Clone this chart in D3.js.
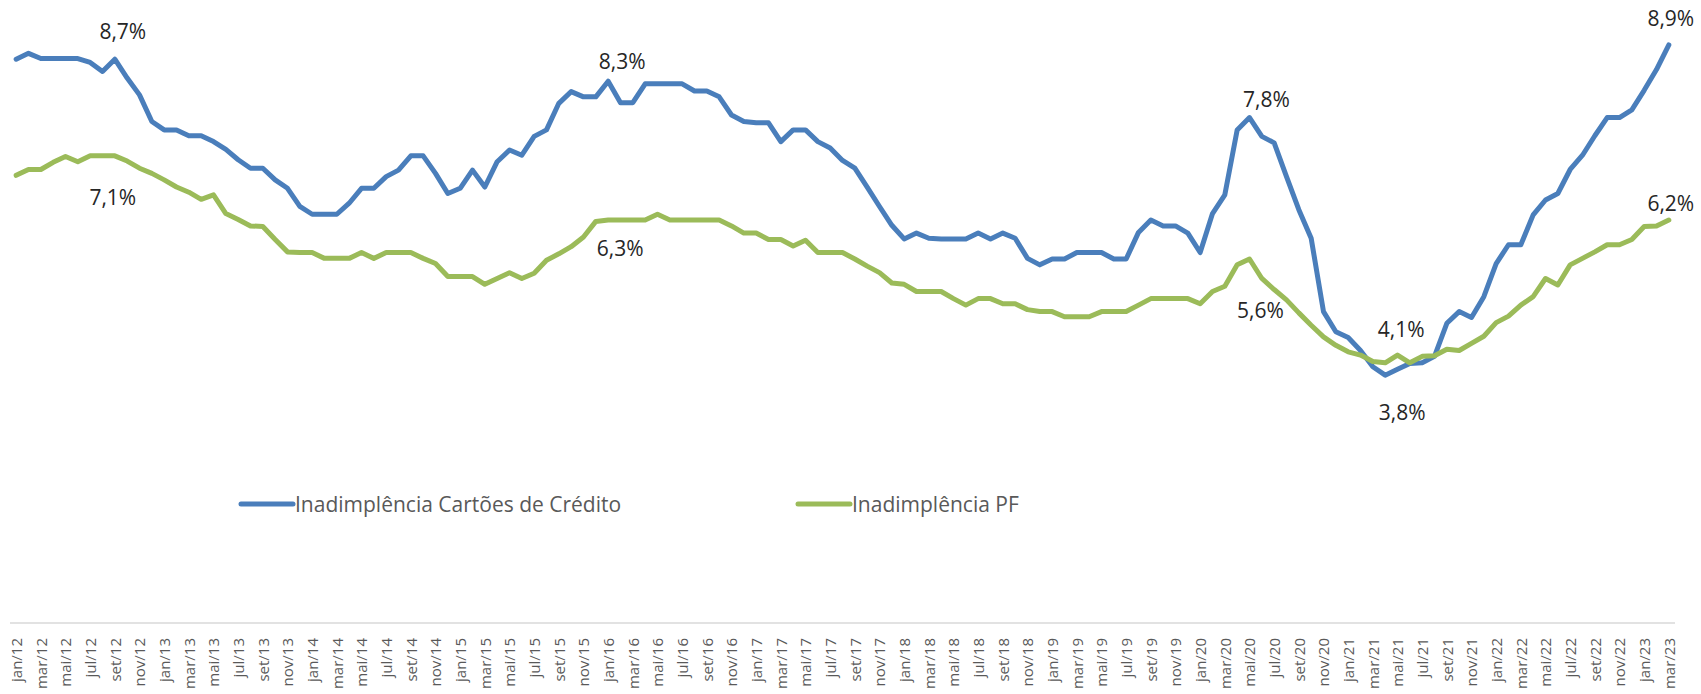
<!doctype html>
<html lang="pt">
<head>
<meta charset="utf-8" />
<title>Inadimplência</title>
<script src="https://cdn.jsdelivr.net/npm/d3@7"></script>
<style>
    html, body {
        margin: 0;
        background: #fff;
    }
    text {
        font-family: "Open Sans", sans-serif;
    }
</style>
</head>
<body>
<div id="chart"></div>
<script>
// month names for the axis, one point per month from jan/12 to mar/23
const monthNames = ["jan", "fev", "mar", "abr", "mai", "jun", "jul", "ago", "set", "out", "nov", "dez"];
const firstYear = 12;
const nMonths = 135;

// Inadimplência Cartões de Crédito (%)
const cardValues = [
    8.69, 8.78, 8.70, 8.70, 8.70, 8.70, 8.64, 8.50, 8.69, 8.40, 8.14, 7.73,
    7.60, 7.60, 7.51, 7.51, 7.42, 7.30, 7.14, 7.01, 7.01, 6.83, 6.70, 6.42,
    6.30, 6.30, 6.30, 6.47, 6.70, 6.70, 6.88, 6.98, 7.20, 7.20, 6.93, 6.62,
    6.70, 6.98, 6.72, 7.11, 7.29, 7.21, 7.50, 7.60, 8.01, 8.19, 8.11, 8.11,
    8.35, 8.02, 8.02, 8.31, 8.31, 8.31, 8.31, 8.20, 8.20, 8.11, 7.83, 7.73,
    7.71, 7.71, 7.42, 7.60, 7.60, 7.42, 7.32, 7.13, 7.01, 6.72, 6.42, 6.13,
    5.92, 6.01, 5.93, 5.92, 5.92, 5.92, 6.01, 5.92, 6.01, 5.93, 5.62, 5.52,
    5.61, 5.61, 5.71, 5.71, 5.71, 5.61, 5.61, 6.02, 6.21, 6.12, 6.12, 6.01,
    5.71, 6.31, 6.60, 7.60, 7.79, 7.50, 7.40, 6.88, 6.37, 5.93, 4.80, 4.49,
    4.40, 4.20, 3.95, 3.82, 3.91, 4.00, 4.01, 4.11, 4.62, 4.80, 4.71, 5.03,
    5.54, 5.83, 5.83, 6.29, 6.52, 6.62, 6.99, 7.21, 7.51, 7.79, 7.79, 7.91,
    8.21, 8.53, 8.91
];

// Inadimplência PF (%)
const pfValues = [
    6.90, 6.99, 6.99, 7.10, 7.19, 7.11, 7.20, 7.20, 7.20, 7.12, 7.01, 6.93,
    6.83, 6.72, 6.64, 6.53, 6.60, 6.31, 6.22, 6.12, 6.11, 5.91, 5.72, 5.71,
    5.71, 5.62, 5.62, 5.62, 5.71, 5.62, 5.71, 5.71, 5.71, 5.62, 5.54, 5.34,
    5.34, 5.34, 5.22, 5.31, 5.40, 5.31, 5.39, 5.59, 5.69, 5.80, 5.95, 6.19,
    6.21, 6.21, 6.21, 6.21, 6.30, 6.21, 6.21, 6.21, 6.21, 6.21, 6.12, 6.01,
    6.01, 5.91, 5.91, 5.81, 5.90, 5.71, 5.71, 5.71, 5.61, 5.50, 5.40, 5.24,
    5.22, 5.11, 5.11, 5.11, 5.00, 4.90, 5.00, 5.00, 4.92, 4.92, 4.83, 4.80,
    4.80, 4.72, 4.72, 4.72, 4.80, 4.80, 4.80, 4.90, 5.00, 5.00, 5.00, 5.00,
    4.92, 5.11, 5.19, 5.52, 5.61, 5.31, 5.14, 4.98, 4.78, 4.59, 4.41, 4.28,
    4.18, 4.13, 4.03, 4.01, 4.13, 4.01, 4.11, 4.12, 4.22, 4.20, 4.31, 4.42,
    4.63, 4.73, 4.90, 5.03, 5.31, 5.21, 5.52, 5.62, 5.72, 5.83, 5.83, 5.91,
    6.11, 6.12, 6.21
];

const seriesNames = ["Inadimplência Cartões de Crédito", "Inadimplência PF"];
const seriesColors = ["#4a7ebb", "#9bbb59"];

// data labels written on the chart
const labelIndex  = [8, 8, 48, 48, 100, 100, 111, 111, 134, 134];
const labelSeries = [0, 1, 0, 1, 0, 1, 1, 0, 0, 1];
const labelText   = ["8,7%", "7,1%", "8,3%", "6,3%", "7,8%", "5,6%", "4,1%", "3,8%", "8,9%", "6,2%"];

const categories = d3.range(nMonths).map(i =>
    monthNames[i % 12] + "/" + (firstYear + Math.floor(i / 12)));

const width = 1701, height = 694;
const plot = {left: 10, right: 1675, top: 0, bottom: 623};

const svg = d3.select("#chart").append("svg")
    .attr("width", width)
    .attr("height", height)
    .attr("viewBox", [0, 0, width, height]);

svg.append("rect").attr("width", width).attr("height", height).attr("fill", "#fff");

const x = d3.scalePoint()
    .domain(categories)
    .range([plot.left, plot.right])
    .padding(0.5);

const y = d3.scaleLinear()
    .domain([0, 9.6])
    .range([plot.bottom, plot.bottom - 9.6 * 64.88]);

// category axis: light rule plus rotated labels every other month
const xAxis = d3.axisBottom(x)
    .tickValues(categories.filter((d, i) => i % 2 === 0))
    .tickSize(0)
    .tickPadding(0);

const gx = svg.append("g")
    .attr("transform", `translate(0,${plot.bottom})`)
    .call(xAxis);

gx.select(".domain")
    .attr("d", `M${plot.left},0H${plot.right}`)
    .attr("stroke", "#d9d9d9")
    .attr("stroke-width", 1.5);

gx.selectAll(".tick text")
    .attr("transform", "rotate(-90)")
    .attr("text-anchor", "end")
    .attr("x", -15)
    .attr("y", 0)
    .attr("dy", "0.36em")
    .attr("fill", "#595959")
    .style("font-size", "15px")
    .style("font-family", "'Open Sans', sans-serif");

const allSeries = [cardValues, pfValues];

const line = d3.line()
    .x((d, i) => x(categories[i]))
    .y(d => y(d));

svg.append("g")
    .selectAll("path")
    .data(allSeries)
    .join("path")
    .attr("d", line)
    .attr("fill", "none")
    .attr("stroke", (d, i) => seriesColors[i])
    .attr("stroke-width", 5)
    .attr("stroke-linejoin", "round")
    .attr("stroke-linecap", "round");

// label placement relative to its point (centre of the text)
const labelOffset = [
    [8, -28], [-2, 42], [14, -20], [12, 28], [17, -18],
    [11, 51], [16, -33], [17, 37], [2, -26], [2, -17]
];
const labelSize = 21;

svg.append("g")
    .selectAll("text")
    .data(labelText)
    .join("text")
    .attr("x", (d, k) => x(categories[labelIndex[k]]) + labelOffset[k][0])
    .attr("y", (d, k) => y(allSeries[labelSeries[k]][labelIndex[k]]) + labelOffset[k][1] + labelSize * 0.36)
    .attr("text-anchor", "middle")
    .attr("fill", "#262626")
    .style("font-size", labelSize + "px")
    .text(d => d);

// legend
const legendX = [241, 798];
const legendY = 504;
const legend = svg.append("g")
    .selectAll("g")
    .data(seriesNames)
    .join("g")
    .attr("transform", (d, i) => `translate(${legendX[i]},${legendY})`);

legend.append("line")
    .attr("x1", 0)
    .attr("x2", 52)
    .attr("stroke", (d, i) => seriesColors[i])
    .attr("stroke-width", 5)
    .attr("stroke-linecap", "round");

legend.append("text")
    .attr("x", 54)
    .attr("dy", "0.36em")
    .attr("fill", "#595959")
    .style("font-size", "21px")
    .text(d => d);
</script>
</body>
</html>
